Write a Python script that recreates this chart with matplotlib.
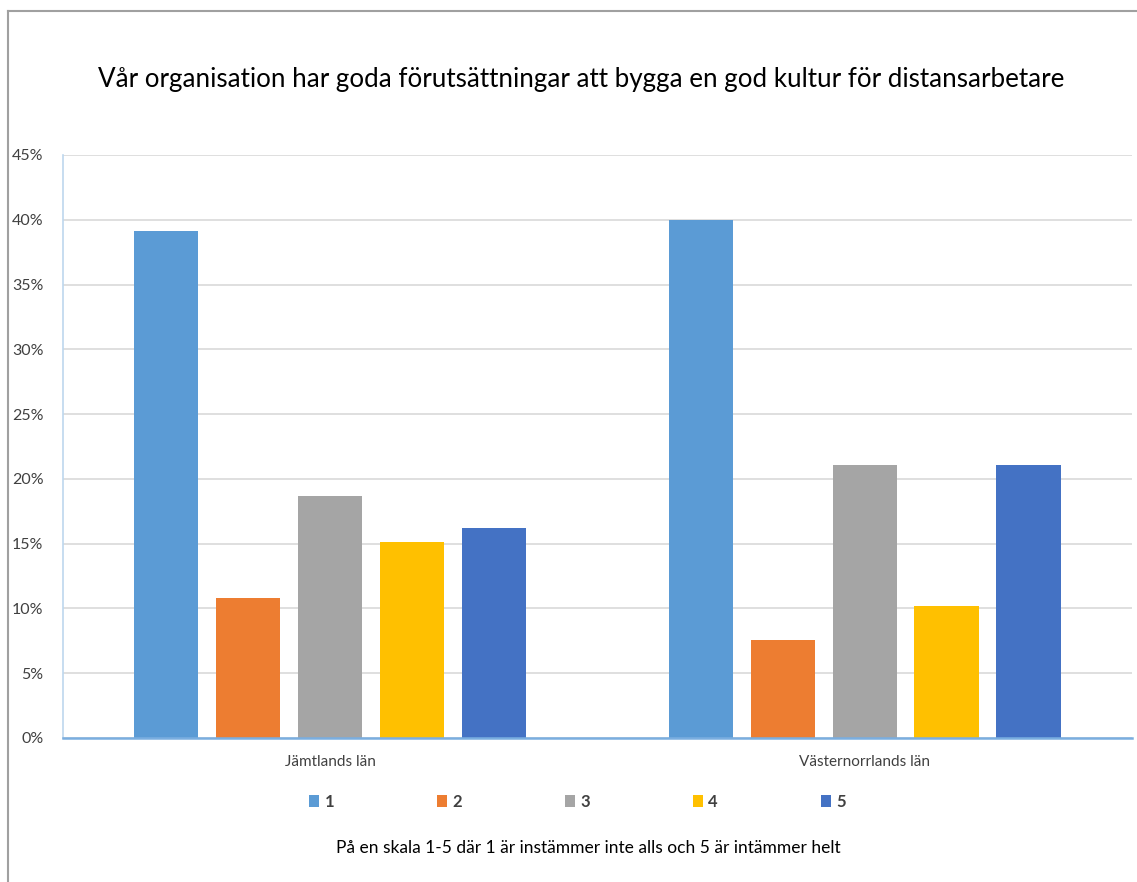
import matplotlib.pyplot as plt
import numpy as np
from matplotlib.patches import Patch
from matplotlib.lines import Line2D

plt.rcParams['font.family'] = ['Lato', 'DejaVu Sans']

# Data
regions = ["Jämtlands län", "Västernorrlands län"]
scale_labels = ["1", "2", "3", "4", "5"]
val_1 = [39.1, 40.0]
val_2 = [10.8, 7.6]
val_3 = [18.7, 21.1]
val_4 = [15.1, 10.2]
val_5 = [16.2, 21.1]
series = [val_1, val_2, val_3, val_4, val_5]
colors = ["#5B9BD5", "#ED7D31", "#A5A5A5", "#FFC000", "#4472C4"]

fig = plt.figure(figsize=(11.37, 8.82), dpi=100)
ax = fig.add_axes([0.0554, 0.1633, 0.94, 0.661])

x = np.arange(len(regions))
step = 0.1534
width = 0.12
for i, vals in enumerate(series):
    ax.bar(x + (i - 2) * step, vals, width, color=colors[i], label=scale_labels[i], zorder=3)

ax.set_xlim(-0.5, 1.5)
ax.set_ylim(0, 45)
ax.set_yticks(np.arange(0, 46, 5))
ax.set_yticklabels([f"{v}%" for v in range(0, 46, 5)], fontsize=11.5, color="#404040")
ax.set_xticks(x)
ax.set_xticklabels(regions, fontsize=11, color="#404040")
ax.tick_params(axis='both', length=0)
ax.tick_params(axis='y', pad=14)
ax.tick_params(axis='x', pad=12)
ax.grid(axis='y', color="#D9D9D9", linewidth=1.2, zorder=0)

for s in ["top", "right"]:
    ax.spines[s].set_visible(False)
ax.spines["left"].set_color("#BDD7EE")
ax.spines["left"].set_linewidth(1.2)
ax.spines["bottom"].set_color("#7AAEE0")
ax.spines["bottom"].set_linewidth(1.8)
ax.spines["bottom"].set_zorder(4)

fig.text(0.511, 1 - 80 / 882, "Vår organisation har goda förutsättningar att bygga en god kultur för distansarbetare",
         ha='center', va='center', fontsize=18.7, color="#000000")

handles = [Patch(facecolor=c, edgecolor='none') for c in colors]
leg = fig.legend(handles, scale_labels, loc='center', bbox_to_anchor=(0.508, 1 - 802 / 882),
                 ncol=5, frameon=False, handlelength=0.6, handleheight=0.7,
                 handletextpad=0.3, columnspacing=6.2,
                 prop={'weight': 'bold', 'size': 12})
for t in leg.get_texts():
    t.set_color("#404040")

fig.text(0.517, 1 - 848 / 882, "På en skala 1-5 där 1 är instämmer inte alls och 5 är intämmer helt",
         ha='center', va='center', fontsize=12.5, color="#000000")

# outer chart border (left and top edges visible)
fig.add_artist(Line2D([8 / 1137, 8 / 1137], [0, 1 - 11 / 882], transform=fig.transFigure,
                      color="#A0A0A0", linewidth=1.5))
fig.add_artist(Line2D([8 / 1137, 1], [1 - 11 / 882, 1 - 11 / 882], transform=fig.transFigure,
                      color="#A0A0A0", linewidth=1.5))

fig.savefig("out.png", dpi=100)
